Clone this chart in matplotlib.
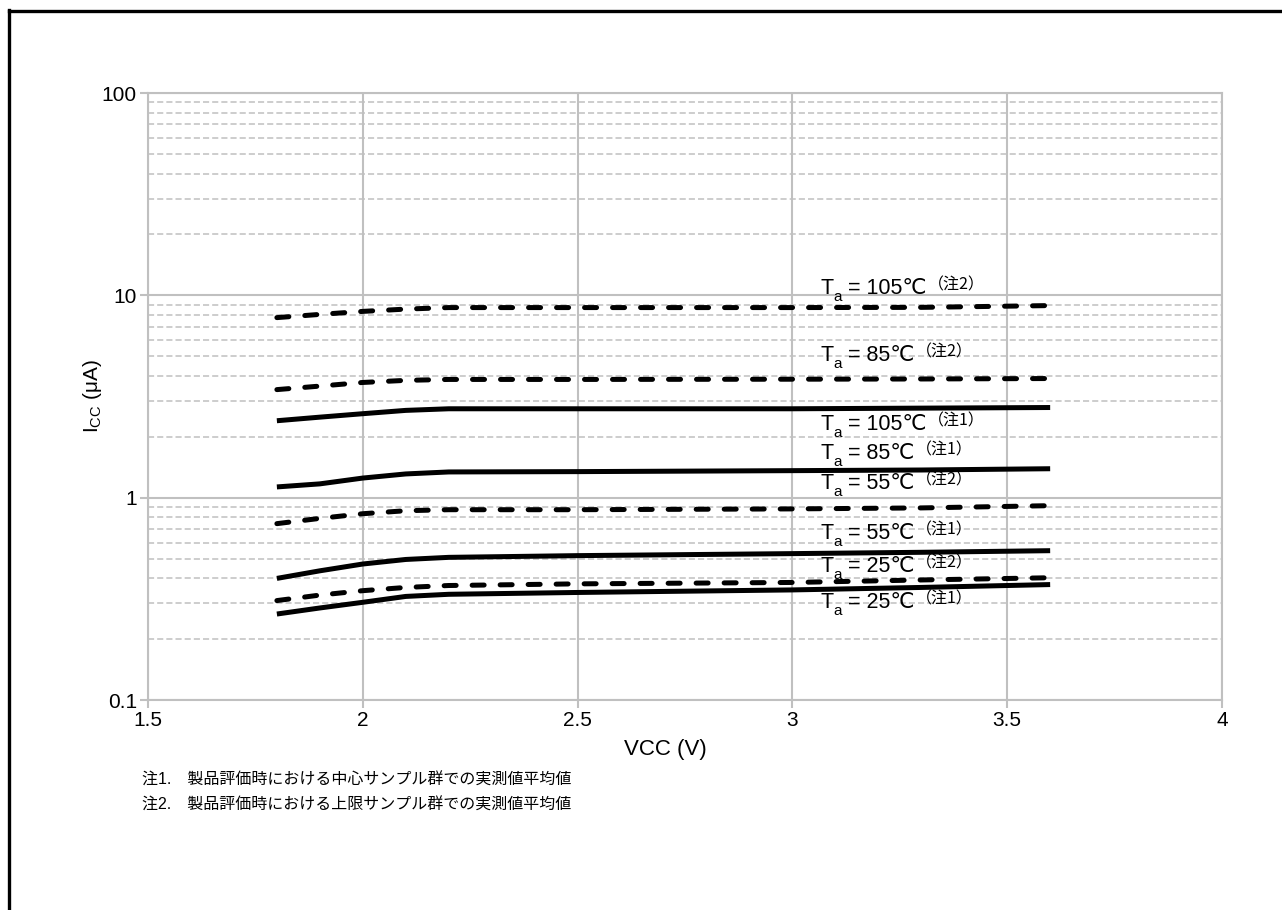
import matplotlib
matplotlib.use("Agg")
import matplotlib.pyplot as plt
from matplotlib.lines import Line2D
from matplotlib.ticker import FixedLocator, FixedFormatter, LogLocator, NullFormatter

plt.rcParams['font.family'] = ['Liberation Sans', 'Noto Sans CJK JP', 'DejaVu Sans']
plt.rcParams['mathtext.fontset'] = 'custom'
plt.rcParams['mathtext.rm'] = 'Liberation Sans'
plt.rcParams['mathtext.it'] = 'Liberation Sans'

# ---- data ----
vcc = [1.8, 1.9, 2.0, 2.1, 2.2, 2.5, 3.0, 3.3, 3.6]
icc_105_n2 = [7.76, 8.05, 8.33, 8.55, 8.70, 8.70, 8.70, 8.72, 8.90]
icc_85_n2 = [3.42, 3.56, 3.71, 3.80, 3.84, 3.84, 3.85, 3.86, 3.88]
icc_105_n1 = [2.40, 2.50, 2.60, 2.70, 2.75, 2.75, 2.75, 2.77, 2.79]
icc_85_n1 = [1.13, 1.17, 1.25, 1.31, 1.34, 1.345, 1.36, 1.37, 1.39]
icc_55_n2 = [0.744, 0.79, 0.833, 0.862, 0.872, 0.872, 0.88, 0.89, 0.913]
icc_55_n1 = [0.399, 0.435, 0.470, 0.495, 0.507, 0.517, 0.529, 0.537, 0.547]
icc_25_n2 = [0.310, 0.330, 0.347, 0.360, 0.368, 0.375, 0.381, 0.392, 0.402]
icc_25_n1 = [0.266, 0.285, 0.304, 0.325, 0.333, 0.340, 0.350, 0.360, 0.372]

series = [
    (icc_105_n2, 'n2'), (icc_85_n2, 'n2'), (icc_105_n1, 'n1'), (icc_85_n1, 'n1'),
    (icc_55_n2, 'n2'), (icc_55_n1, 'n1'), (icc_25_n2, 'n2'), (icc_25_n1, 'n1'),
]

label_temps = ['105', '85', '105', '85', '55', '55', '25', '25']
label_notes = ['注2', '注2', '注1', '注1', '注2', '注1', '注2', '注1']
label_y = [10.8, 5.03, 2.30, 1.65, 1.173, 0.664, 0.456, 0.303]
label_x = 3.065

xticks = [1.5, 2, 2.5, 3, 3.5, 4]
xticklabels = ['1.5', '2', '2.5', '3', '3.5', '4']
yticks = [0.1, 1, 10, 100]
yticklabels = ['0.1', '1', '10', '100']

notes = ['注1.\u3000製品評価時における中心サンプル群での実測値平均値',
         '注2.\u3000製品評価時における上限サンプル群での実測値平均値']

# ---- figure ----
fig = plt.figure(figsize=(12.82, 9.10), dpi=100)
ax = fig.add_axes([148/1282, 1-700/910, (1222-148)/1282, (700-93)/910])

grid_c = '#c0c0c0'
ax.set_yscale('log')
ax.set_xlim(1.5, 4)
ax.set_ylim(0.1, 100)

for ys, kind in series:
    if kind == 'n1':
        ax.plot(vcc, ys, color='black', lw=3.6, solid_capstyle='butt',
                solid_joinstyle='round', zorder=5)
    else:
        ax.plot(vcc, ys, color='black', lw=3.6, linestyle=(0, (2.4, 3.2)),
                dash_capstyle='round', zorder=5)

ax.xaxis.set_major_locator(FixedLocator(xticks))
ax.xaxis.set_major_formatter(FixedFormatter(xticklabels))
ax.yaxis.set_major_locator(FixedLocator(yticks))
ax.yaxis.set_major_formatter(FixedFormatter(yticklabels))
ax.yaxis.set_minor_locator(LogLocator(base=10, subs=[2, 3, 4, 5, 6, 7, 8, 9]))
ax.yaxis.set_minor_formatter(NullFormatter())

ax.grid(True, which='major', axis='both', color=grid_c, lw=1.5, linestyle='-')
ax.grid(True, which='minor', axis='y', color=grid_c, lw=1.1, linestyle=(0, (4, 2)))
ax.set_axisbelow(True)
for s in ax.spines.values():
    s.set_color(grid_c)
    s.set_linewidth(1.5)

ax.tick_params(axis='both', which='major', colors=grid_c, labelcolor='black',
               length=6, width=1.5, labelsize=15, direction='out', pad=2)
ax.tick_params(axis='y', which='minor', length=0)

ax.set_ylabel('I$_\\mathrm{CC}$ (μA)', fontsize=15)
ax.yaxis.set_label_coords(-0.052, 0.5)
ax.yaxis.label.set_va('center')
ax.set_xlabel('VCC (V)', fontsize=16)
ax.xaxis.set_label_coords(0.482, -0.082)
ax.xaxis.label.set_va('center')

for t, n, y in zip(label_temps, label_notes, label_y):
    t1 = ax.text(label_x, y, 'T', fontsize=15.5, ha='left', va='center', zorder=6)
    t2 = ax.annotate('a', xy=(1.0, 0.0), xycoords=t1, xytext=(0.3, -3.5),
                     textcoords='offset points', fontsize=11, ha='left',
                     va='bottom', zorder=6)
    t3 = ax.annotate(' = ' + t + '\u2103', xy=(1.0, 0.0), xycoords=(t2, t1),
                     fontsize=15.5, ha='left', va='bottom', zorder=6,
                     family=['Liberation Sans', 'DejaVu Sans'])
    ax.annotate('（' + n + '）', xy=(1.0, 1.0), xycoords=t3, xytext=(1, 1),
                textcoords='offset points', fontsize=11.5,
                ha='left', va='top', zorder=6,
                family=['Noto Sans CJK JP', 'Liberation Sans'])

fig.text(142/1282, 1-780/910, notes[0], fontsize=11.5, ha='left', va='center')
fig.text(142/1282, 1-805/910, notes[1], fontsize=11.5, ha='left', va='center')

# page frame (left and top)
fig.add_artist(Line2D([9/1282, 9/1282], [0, 1-9.5/910], color='black', lw=2.4,
                      transform=fig.transFigure, solid_capstyle='projecting'))
fig.add_artist(Line2D([9/1282, 1], [1-11/910, 1-11/910], color='black', lw=2.4,
                      transform=fig.transFigure))

fig.savefig('out.png', dpi=100, facecolor='white')
